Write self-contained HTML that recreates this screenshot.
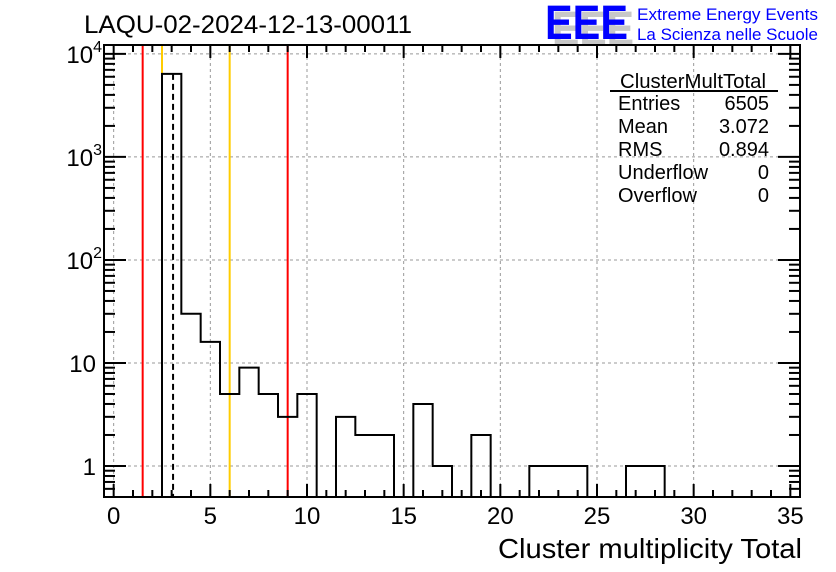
<!DOCTYPE html>
<html><head><meta charset="utf-8"><style>
html,body{margin:0;padding:0;background:#fff;width:836px;height:572px;overflow:hidden}
svg text{font-family:"Liberation Sans",sans-serif}
</style></head><body>
<svg id="c" width="836" height="572" xmlns="http://www.w3.org/2000/svg">
<text x="84" y="33" font-size="25" textLength="328" lengthAdjust="spacingAndGlyphs">LAQU-02-2024-12-13-00011</text>
<g>
<text x="552" y="45" font-size="48" font-weight="bold" fill="#c8c8c8" textLength="82" lengthAdjust="spacingAndGlyphs">EEE</text>
<text x="545" y="39" font-size="48" font-weight="bold" fill="#0000ff" textLength="83" lengthAdjust="spacingAndGlyphs">EEE</text>
<text x="637" y="20" font-size="17" fill="#0000ff" textLength="181" lengthAdjust="spacingAndGlyphs">Extreme Energy Events</text>
<text x="637" y="40" font-size="17" fill="#0000ff" textLength="181" lengthAdjust="spacingAndGlyphs">La Scienza nelle Scuole</text>
</g>
<g id="grid"></g>
<g id="lines"></g>
<g id="hist"></g>
<g id="axes"></g>
<g font-size="20">
<text x="620" y="88" textLength="146" lengthAdjust="spacingAndGlyphs">ClusterMultTotal</text>
<line x1="610" y1="91" x2="778" y2="91" stroke="#000" stroke-width="2"/>
<text x="618" y="110">Entries</text><text x="769" y="110" text-anchor="end">6505</text>
<text x="618" y="133">Mean</text><text x="769" y="133" text-anchor="end">3.072</text>
<text x="618" y="156">RMS</text><text x="769" y="156" text-anchor="end">0.894</text>
<text x="618" y="179">Underflow</text><text x="769" y="179" text-anchor="end">0</text>
<text x="618" y="202">Overflow</text><text x="769" y="202" text-anchor="end">0</text>
</g>
<text x="802" y="558" font-size="28" text-anchor="end" textLength="304" lengthAdjust="spacingAndGlyphs">Cluster multiplicity Total</text>
</svg>
<script>
const binCenters=[3,4,5,6,7,8,9,10,11,12,13,14,15,16,17,18,19,20,21,22,23,24,25,26,27,28];
const binCounts=[6400,30,16,5,9,5,3,5,0,3,2,2,0,4,1,0,2,0,0,1,1,1,0,0,1,1];
const xTicks=[0,5,10,15,20,25,30,35];
const yDecades=[0,1,2,3,4];
const yLabels=["1","10","10²","10³","10⁴"];
const redLines=[1.5,9.0];
const yellowLines=[2.5,6.0];
const meanLine=[3.072];
const XMIN=-0.5,XMAX=35.5,YMIN=0.5,YMAX=12200;
const L=104,R=800,T=45,B=497;
const NS="http://www.w3.org/2000/svg";
function sx(v){return L+(v-XMIN)/(XMAX-XMIN)*(R-L);}
function sy(v){if(v<=YMIN)return B;const l=Math.log10(v);return B-(l-Math.log10(YMIN))/(Math.log10(YMAX)-Math.log10(YMIN))*(B-T);}
function mk(tag,attrs,parent){const e=document.createElementNS(NS,tag);for(const k in attrs)e.setAttribute(k,attrs[k]);parent.appendChild(e);return e;}
const grid=document.getElementById('grid'),lines=document.getElementById('lines'),hist=document.getElementById('hist'),axes=document.getElementById('axes');
xTicks.forEach(t=>{if(t<35){const g=mk('line',{x1:sx(t),x2:sx(t),y1:T,y2:B,stroke:'#999','stroke-dasharray':'3,3','stroke-width':1},grid);

}});
yDecades.forEach(d=>{const y=sy(Math.pow(10,d));const g=mk('line',{x1:L,x2:R,y1:y,y2:y,stroke:'#999','stroke-dasharray':'3,3','stroke-width':1},grid);

});
function vline(v,col,name,dash){const e=mk('line',{x1:sx(v),x2:sx(v),y1:T,y2:B,stroke:col,'stroke-width':2},lines);if(dash)e.setAttribute('stroke-dasharray',dash);

}
redLines.forEach(v=>vline(v,'#ff0000','red-marker-line'));
yellowLines.forEach(v=>vline(v,'#ffcc00','yellow-marker-line'));
let d='';
binCenters.forEach((c,i)=>{const x0=sx(c-0.5),x1=sx(c+0.5),y=sy(binCounts[i]);
if(i===0)d+='M'+x0+','+B;d+=' L'+x0+','+y+' L'+x1+','+y;});
d+=' L'+sx(binCenters[binCenters.length-1]+0.5)+','+B;
const h=mk('path',{d:d,fill:'none',stroke:'#000','stroke-width':2},hist);


binCenters.forEach((c,i)=>{if(binCounts[i]>0){const r=mk('rect',{x:sx(c-0.5),y:sy(binCounts[i]),width:sx(c+0.5)-sx(c-0.5),height:B-sy(binCounts[i]),fill:'none'},hist);

}});
meanLine.forEach(v=>{const e=mk('line',{x1:sx(v),x2:sx(v),y1:sy(binCounts[0]),y2:B,stroke:'#000','stroke-width':2,'stroke-dasharray':'6,4'},lines);

});
const f=mk('rect',{x:L,y:T,width:R-L,height:B-T,fill:'none',stroke:'#000','stroke-width':2},axes);


for(let t=0;t<=35;t++){const maj=t%5===0;const len=maj?13:7;const x=sx(t);
mk('line',{x1:x,x2:x,y1:B,y2:B-len,stroke:'#000','stroke-width':2},axes);
mk('line',{x1:x,x2:x,y1:T,y2:T+len,stroke:'#000','stroke-width':2},axes);}
xTicks.forEach(t=>{const e=mk('text',{x:sx(t),y:B+27,'font-size':24,'text-anchor':'middle'},axes);e.textContent=String(t);

});
for(let d0=-1;d0<=4;d0++){for(let m=1;m<10;m++){const v=m*Math.pow(10,d0);if(v<YMIN||v>YMAX)continue;const y=sy(v);const len=m===1?22:11;
mk('line',{x1:L,x2:L+len,y1:y,y2:y,stroke:'#000','stroke-width':2},axes);
mk('line',{x1:R,x2:R-len,y1:y,y2:y,stroke:'#000','stroke-width':2},axes);}}
yDecades.forEach((dd,i)=>{const y=sy(Math.pow(10,dd));const e=mk('text',{x:L-8,y:y+9,'font-size':24,'text-anchor':'end'},axes);
if(dd>=2){e.textContent='10';const s=mk('tspan',{dy:-11,'font-size':16},e);s.textContent=String(dd);e.setAttribute('x',L-2);}else e.textContent=yLabels[i];

});
</script>
</body></html>
